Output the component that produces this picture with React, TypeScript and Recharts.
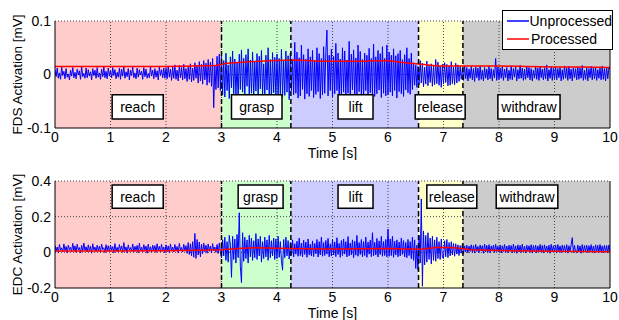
import React from "react";
import {
  LineChart,
  Line,
  XAxis,
  YAxis,
  ReferenceArea,
  ReferenceLine,
  Legend,
} from "recharts";

// sampling interval of the raw EMG traces (s)
const SAMPLE_DT = 0.02;

// FDS raw signal, in µV (1e-3 mV), one row per second
const fdsRaw = [
  9, -4, 12, -7, 3, -9, 14, -2, 6, -8, 11, -5, 1, -10, 8, -3, 13, -6, 4, -8, 10, -1, 7, -9, 15, -4, 2, -7, 12, -6, 9, -3, 5, -10, 11, -2, 8, -7, 13, -5, 3, -9, 10, -4, 14, -6, 6, -8, 12, -3,
  7, -6, 13, -2, 9, -8, 4, -5, 12, -9, 10, -3, 15, -7, 5, -4, 11, -10, 8, -2, 14, -6, 3, -8, 12, -5, 9, -1, 6, -9, 13, -4, 10, -7, 2, -6, 15, -3, 8, -8, 11, -5, 7, -10, 14, -2, 9, -6, 12, -7,
  12, -8, 16, -5, 10, -11, 14, -7, 18, -9, 8, -12, 17, -6, 13, -10, 19, -8, 11, -13, 15, -9, 20, -14, 12, -11, 22, -7, 17, -16, 24, -12, 19, -18, 26, -10, 21, -20, 28, -15, 23, -22, 30, -62, 18, -28, 34, -25, 38, -30,
  35, -38, 26, -42, 40, -30, 18, -45, 33, -25, 44, -36, 29, -40, 22, -48, 38, -28, 46, -33, 30, -41, 37, -22, 48, -39, 27, -35, 42, -44, 25, -31, 39, -46, 34, -27, 45, -38, 20, -42, 36, -29, 50, -40, 28, -47, 41, -34, 32, -43,
  38, -45, 30, -36, 47, -41, 26, -39, 44, -33, 35, -47, 40, -30, 28, -38, 60, -35, 42, -44, 31, -40, 55, -28, 37, -46, 29, -36, 48, -41, 33, -30, 45, -43, 26, -37, 50, -32, 39, -45, 30, -38, 52, -35, 41, 83, -40, 36, -30, 47,
  -42, 34, -36, 58, -30, 40, -45, 29, -38, 50, -33, 44, -40, 27, -35, 62, -41, 38, -29, 46, -44, 31, -37, 55, -32, 43, -39, 28, -46, 40, -30, 36, -42, 49, -34, 30, -38, 57, -41, 33, -36, 45, -29, 39, -43, 52, -35, 30, -40, 55,
  -38, 42, -33, 36, -40, 48, -30, 35, -44, 39, -32, 45, -36, 28, -41, 37, -29, 50, -34, 30, -37, 40, -28, 22, -20, 18, -24, 15, -19, 26, -16, 21, -23, 14, -18, 25, -21, 17, -15, 20, -22, 16, -19, 28, -17, 23, -20, 15, -24, 19,
  -18, 22, -15, 19, -21, 16, -20, 24, -17, 14, -19, 21, -16, 18, -13, 15, -9, 12, -11, 16, -8, 13, -12, 10, -7, 15, -10, 11, -13, 14, -6, 12, -11, 16, -9, 8, -12, 13, -7, 10, -10, 15, -8, 11, -12, 9, -6, 30, -11, 14,
  -9, 12, -7, 15, -11, 10, -6, 13, -12, 8, -9, 16, -10, 11, -5, 14, -12, 9, -8, 17, -7, 12, -11, 10, -9, 15, -6, 13, -10, 11, -12, 8, -7, 16, -9, 12, -11, 14, -6, 10, -10, 13, -8, 18, -12, 9, -7, 15, -11, 12,
  -8, 14, -10, 11, -6, 13, -12, 9, -9, 16, -7, 12, -11, 15, -8, 10, -12, 13, -6, 11, -10, 14, -9, 12, -7, 17, -11, 8, -9, 13, -12, 11, -6, 15, -10, 12, -8, 14, -11, 9, -7, 13, -10, 16, -9, 11, -12, 14, -8, 12,
  10,
];

// EDC raw signal, in µV
const edcRaw = [
  38, 8, 30, -2, 44, 12, 25, 3, 47, 10, 33, -4, 41, 15, 28, 5, 50, 9, 36, 0, 45, 14, 27, -3, 39, 7, 52, 11, 31, 2, 42, 6, 35, -5, 48, 13, 29, 4, 40, 9, 34, 1, 46, 16, 26, -2, 43, 8, 37, 5,
  41, 10, 32, -3, 49, 7, 28, 2, 44, 12, 36, 0, 55, 9, 30, -4, 42, 14, 27, 6, 47, 3, 34, 11, 39, -2, 51, 8, 29, 4, 43, 13, 35, -5, 46, 6, 31, 1, 40, 10, 38, -1, 48, 12, 33, 4, 45, 7, 30, -3,
  42, 5, 36, -2, 47, 11, 29, 3, 44, 8, 33, -4, 50, 13, 27, 2, 45, 9, 38, -6, 55, -12, 48, -20, 60, -28, 106, -34, 72, -15, 58, -25, 45, -8, 52, 3, 40, -5, 47, 6, 35, -3, 49, 10, 30, 0, 44, -6, 52, 4,
  -30, 70, -20, 85, -45, 60, -55, 95, 40, -140, 90, -40, 75, -60, 100, -30, 222, -80, -170, 110, -50, 85, -35, 70, -60, 95, -25, 80, -45, 65, -30, 105, -40, 75, -20, 90, -55, 60, -35, 85, -25, 70, -45, 95, -30, 65, -20, 80, -40, 75,
  -35, 90, -28, 60, -45, -100, 72, -30, 85, -20, 66, -38, 55, -15, 70, -26, 48, -10, 62, -22, 80, -18, 52, -25, 68, -12, 58, -28, 75, -15, 45, -20, 64, -24, 50, -8, 72, -26, 60, -14, 85, -22, 55, -18, 66, -10, 78, -25, 48, -20,
  70, -15, 58, -24, 82, -12, 50, -28, 66, -18, 75, -10, 60, -26, 88, -20, 52, -14, 70, -30, 62, -16, 95, -22, 55, -12, 72, -25, 60, -18, 85, -28, 58, -10, 68, -24, 110, -20, 56, -15, 78, -26, 64, -12, 90, -22, 60, -18, 72, -25,
  130, -22, 75, -18, 90, -28, 62, -15, 70, -25, 58, -20, 80, -12, 66, -26, 55, -30, 72, -18, 60, -35, 85, -45, 70, -90, 40, -100, 95, -60, 300, -190, 120, -70, 95, -55, 110, -40, 80, -65, 90, -45, 70, -50, 85, -35, 60, -40, 75, -30,
  -35, 65, -25, 72, -30, 55, -20, 60, -15, 50, -22, 48, -10, 42, -18, 38, -5, 45, -8, 36, 2, 40, -3, 35, 6, 42, 0, 38, -4, 44, 5, 33, -2, 41, 8, 37, -5, 46, 3, 39, 0, 43, -3, 36, 7, 40, -1, 45, 4, 34,
  2, 41, -4, 37, 5, 44, 0, 35, -2, 40, 6, 38, -3, 46, 1, 36, -5, 42, 3, 39, -1, 45, 4, 34, -3, 40, 7, 37, 0, 43, -4, 38, 2, 41, -2, 36, 5, 44, 1, 39, -3, 42, 6, 35, 0, 40, -5, 45, 3, 37,
  1, 40, -3, 44, 4, 36, -2, 41, 6, 38, 0, 43, -4, 37, 5, 42, 82, -1, 39, 3, -3, 41, 2, 36, -5, 44, 1, 38, 4, 40, -2, 37, 6, 43, 0, 35, -4, 42, 3, 39, -1, 44, 5, 36, -3, 40, 2, 38, -4, 41,
  3,
];

// processed (envelope) traces, mV
const fdsProcTimes = [0, 1, 2, 2.5, 2.9, 3.1, 3.5, 4, 4.3, 4.8, 5.5, 6, 6.3, 6.6, 6.9, 7.4, 8, 8.5, 9, 9.5, 10];
const fdsProcValues = [0.015, 0.015, 0.015, 0.016, 0.017, 0.021, 0.024, 0.026, 0.027, 0.025, 0.025, 0.026, 0.022, 0.019, 0.016, 0.016, 0.016, 0.015, 0.014, 0.014, 0.013];
const edcProcTimes = [0, 1, 2, 2.6, 3, 3.3, 3.6, 4, 4.5, 5, 5.5, 6, 6.4, 6.6, 6.9, 7.2, 7.5, 8, 9, 10];
const edcProcValues = [0.008, 0.008, 0.009, 0.012, 0.015, 0.022, 0.026, 0.023, 0.02, 0.018, 0.02, 0.022, 0.018, 0.017, 0.028, 0.026, 0.015, 0.01, 0.006, 0.003];

// movement phases
const phaseNames = ["reach", "grasp", "lift", "release", "withdraw"];
const phaseEdges = [0, 3, 4.25, 6.55, 7.35, 10];

const xTicks = [0, 1, 2, 3, 4, 5, 6, 7, 8, 9, 10];
const fdsTicks = [-0.1, 0, 0.1];
const edcTicks = [-0.2, 0, 0.2, 0.4];

// styling / layout
const phaseFills = ["#ffcccc", "#ccffcc", "#ccccff", "#ffffcc", "#cccccc"];
const fdsBoxes = { x: [[1.03, 1.95], [3.18, 4.09], [5.1, 5.73], [6.49, 7.39], [7.98, 9.1]], y: [-0.083, -0.038] };
const edcBoxes = { x: [[1.03, 1.95], [3.3, 4.11], [5.1, 5.73], [6.7, 7.6], [7.95, 9.06]], y: [0.247, 0.378] };

const FONT = "'Liberation Sans', Arial, sans-serif";

const toRows = (vals: number[]) => vals.map((v, i) => ({ t: +(i * SAMPLE_DT).toFixed(2), v: v / 1000 }));
const toProc = (ts: number[], vs: number[]) => ts.map((t, i) => ({ t, v: vs[i] }));

function LegendBox() {
  const row = (color: string, label: string) => (
    <div style={{ display: "flex", alignItems: "center", height: 18 }}>
      <svg width={24} height={10} style={{ marginLeft: 3 }}>
        <line x1={1} x2={23} y1={5} y2={5} stroke={color} strokeWidth={1.5} />
      </svg>
      <span style={{ marginLeft: 1 }}>{label}</span>
    </div>
  );
  return (
    <div
      style={{
        border: "1px solid #000",
        background: "#fff",
        fontFamily: FONT,
        fontSize: 14,
        lineHeight: "18px",
        padding: "1px 0",
        boxSizing: "border-box",
        width: 111,
        height: 40,
      }}
    >
      {row("#0000ff", "Unprocessed")}
      {row("#ff0000", "Processed")}
    </div>
  );
}

interface PanelProps {
  raw: number[];
  procT: number[];
  procV: number[];
  domain: [number, number];
  ticks: number[];
  yLabel: string;
  boxes: { x: number[][]; y: number[] };
  legend?: boolean;
}

function Panel({ raw, procT, procV, domain, ticks, yLabel, boxes, legend }: PanelProps) {
  const rawData = toRows(raw);
  const procData = toProc(procT, procV);
  return (
    <LineChart width={619} height={160} margin={{ top: 21, right: 9, bottom: 0, left: 0 }}>
      <XAxis
        type="number"
        dataKey="t"
        domain={[0, 10]}
        ticks={xTicks}
        allowDataOverflow
        tickLine={false}
        tickSize={0}
        tickMargin={4}
        height={32}
        axisLine={{ stroke: "#000" }}
        tick={{ fontSize: 14, fill: "#000", fontFamily: FONT }}
        label={{ value: "Time [s]", position: "insideBottom", offset: 2, fontSize: 14, fill: "#000", fontFamily: FONT }}
      />
      <YAxis
        type="number"
        domain={domain}
        ticks={ticks}
        allowDataOverflow
        width={55}
        tickLine={false}
        tickSize={0}
        tickMargin={4}
        axisLine={{ stroke: "#000" }}
        tick={{ fontSize: 14, fill: "#000", fontFamily: FONT }}
        label={{
          value: yLabel,
          angle: -90,
          position: "insideLeft",
          offset: 17,
          fontSize: 13.5,
          fill: "#000",
          fontFamily: FONT,
          style: { textAnchor: "middle" },
        }}
      />
      {phaseNames.map((p, i) => (
        <ReferenceArea
          key={p}
          x1={phaseEdges[i]}
          x2={phaseEdges[i + 1]}
          y1={domain[0]}
          y2={domain[1]}
          fill={phaseFills[i]}
          fillOpacity={1}
          stroke="none"
          zIndex={50}
        />
      ))}
      {xTicks.slice(1, -1).map((x) => (
        <ReferenceLine key={"gx" + x} x={x} stroke="#444" strokeDasharray="1 2" strokeWidth={1} zIndex={60} />
      ))}
      {ticks.slice(1).map((y) => (
        <ReferenceLine key={"gy" + y} y={y} stroke="#444" strokeDasharray="1 2" strokeWidth={1} zIndex={60} />
      ))}
      <Line
        data={rawData}
        dataKey="v"
        stroke="#0000ff"
        strokeWidth={1}
        dot={false}
        isAnimationActive={false}
        name="Unprocessed"
        zIndex={400}
      />
      <Line
        data={procData}
        dataKey="v"
        stroke="#ff0000"
        strokeWidth={1.5}
        dot={false}
        isAnimationActive={false}
        name="Processed"
        zIndex={410}
      />
      {phaseEdges.slice(1, -1).map((x) => (
        <ReferenceLine key={"b" + x} x={x} stroke="#000" strokeDasharray="5 3" strokeWidth={1.5} zIndex={450} />
      ))}
      <ReferenceLine x={10} stroke="#000" strokeWidth={1} zIndex={460} />
      {phaseNames.map((p, i) => (
        <ReferenceArea
          key={"box" + p}
          x1={boxes.x[i][0]}
          x2={boxes.x[i][1]}
          y1={boxes.y[0]}
          y2={boxes.y[1]}
          fill="#fff"
          fillOpacity={1}
          stroke="#000"
          strokeWidth={1.5}
          zIndex={600}
          label={{ value: p, position: "center", fontSize: 14, fill: "#000", fontFamily: FONT }}
        />
      ))}
      {legend && (
        <Legend
          layout="horizontal"
          verticalAlign="middle"
          align="center"
          wrapperStyle={{ top: 10, left: 502, width: 111, height: 40 }}
          content={() => <LegendBox />}
        />
      )}
    </LineChart>
  );
}

export default function App() {
  return (
    <div style={{ position: "absolute", left: 0, top: 0, width: 619, height: 320, background: "#fff" }}>
      <Panel
        raw={fdsRaw}
        procT={fdsProcTimes}
        procV={fdsProcValues}
        domain={[-0.1, 0.1]}
        ticks={fdsTicks}
        yLabel="FDS Activation [mV]"
        boxes={fdsBoxes}
        legend
      />
      <Panel
        raw={edcRaw}
        procT={edcProcTimes}
        procV={edcProcValues}
        domain={[-0.2, 0.4]}
        ticks={edcTicks}
        yLabel="EDC Activation [mV]"
        boxes={edcBoxes}
      />
    </div>
  );
}
